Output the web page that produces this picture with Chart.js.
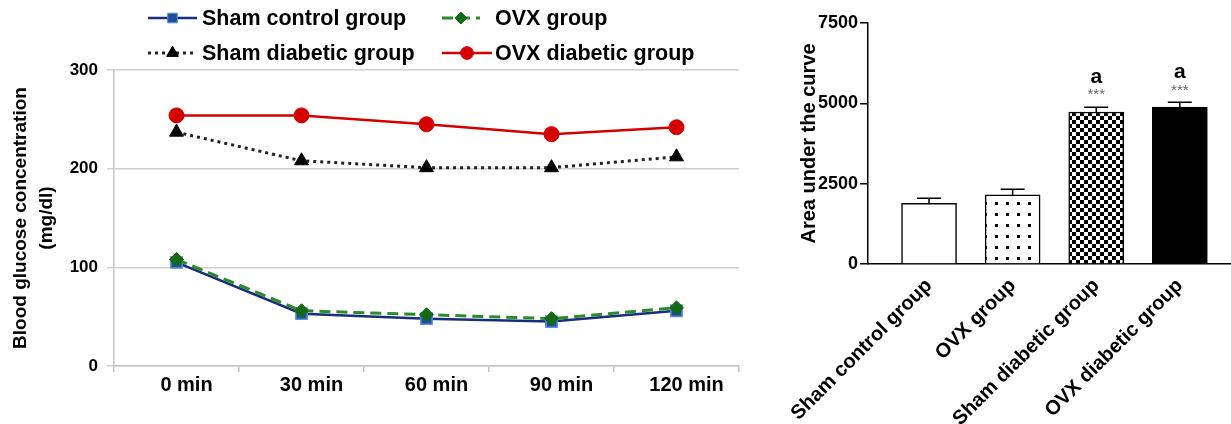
<!DOCTYPE html>
<html>
<head>
<meta charset="utf-8">
<script src="https://cdn.jsdelivr.net/npm/chart.js@4.4.1/dist/chart.umd.min.js"></script>
<style>
html, body { margin: 0; padding: 0; background: #fff; }
#wrap { position: relative; width: 1231px; height: 424px; }
#left { position: absolute; left: 0; top: 0; width: 760px; height: 424px; }
#right { position: absolute; left: 760px; top: 0; width: 471px; height: 424px; }
</style>
</head>
<body>
<div id="wrap">
  <div id="left"><canvas id="glucoseChart"></canvas></div>
  <div id="right"><canvas id="aucChart"></canvas></div>
</div>
<script>
// glucose tolerance curve
const timeLabels = ["0 min", "30 min", "60 min", "90 min", "120 min"];
const shamControl = [105, 53, 48, 45, 56];
const ovxGroup = [108, 56, 52, 48, 59];
const shamDiabetic = [237, 208, 201, 201, 212];
const ovxDiabetic = [254, 254, 245, 235, 242];
const glucoseTicks = [0, 100, 200, 300];

// area under the curve
const aucGroups = ["Sham control group", "OVX group", "Sham diabetic group", "OVX diabetic group"];
const aucValues = [1890, 2150, 4730, 4880];
const aucErrors = [160, 180, 150, 150];
const aucStars = ["", "", "***", "***"];
const aucLetters = ["", "", "a", "a"];
const aucTicks = [0, 2500, 5000, 7500];

const font = "'Liberation Sans', Arial, sans-serif";
const bold = (size, extra) => Object.assign({ family: font, size: size, weight: "bold" }, extra || {});

// legend laid out in two rows like the original
const legendSlots = [[148, 18, 49], [442, 18, 38], [148, 53, 49], [442, 53, 50]];
const excelLegend = {
    id: "excelLegend",
    afterDraw(chart) {
        const ctx = chart.ctx;
        chart.data.datasets.forEach((ds, i) => {
            const [x, y, len] = legendSlots[i];
            ctx.save();
            ctx.strokeStyle = ds.borderColor;
            ctx.lineWidth = ds.borderWidth;
            ctx.setLineDash(ds.borderDash || []);
            ctx.beginPath();
            ctx.moveTo(x, y);
            ctx.lineTo(x + len, y);
            ctx.stroke();
            ctx.setLineDash([]);
            ctx.fillStyle = ds.pointBackgroundColor;
            ctx.strokeStyle = ds.pointBorderColor;
            ctx.lineWidth = 1;
            Chart.helpers.drawPoint(ctx, {pointStyle: ds.pointStyle, radius: ds.pointRadius * 0.85, borderWidth: 1, rotation: 0}, x + len / 2, y);
            ctx.fillStyle = "#000";
            ctx.font = "bold 21.5px " + font;
            ctx.textBaseline = "middle";
            ctx.fillText(ds.label, i % 2 ? 495 : 202, y + 1);
            ctx.restore();
        });
    }
};

new Chart(document.getElementById("glucoseChart"), {
    type: "line",
    data: {
        labels: timeLabels,
        datasets: [
            {
                label: "Sham control group",
                data: shamControl,
                borderColor: "#1a2d7c",
                borderWidth: 2.5,
                pointStyle: "rect",
                pointRadius: 8,
                pointBackgroundColor: "#1f4e9e",
                pointBorderColor: "#5b8fd6",
                pointBorderWidth: 1.5,
                order: 2
            },
            {
                label: "OVX group",
                data: ovxGroup,
                borderColor: "#2b8a2b",
                borderWidth: 3,
                borderDash: [11, 6],
                pointStyle: "rectRot",
                pointRadius: 7,
                pointBackgroundColor: "#146a14",
                pointBorderColor: "#146a14",
                pointBorderWidth: 1,
                order: 1
            },
            {
                label: "Sham diabetic group",
                data: shamDiabetic,
                borderColor: "#222",
                borderWidth: 3,
                borderDash: [3, 4],
                pointStyle: "triangle",
                pointRadius: 8,
                pointBackgroundColor: "#000",
                pointBorderColor: "#000",
                pointBorderWidth: 1,
                order: 3
            },
            {
                label: "OVX diabetic group",
                data: ovxDiabetic,
                borderColor: "#d40000",
                borderWidth: 2.5,
                pointStyle: "circle",
                pointRadius: 7.5,
                pointBackgroundColor: "#d40000",
                pointBorderColor: "#d40000",
                pointBorderWidth: 1,
                order: 4
            }
        ]
    },
    options: {
        responsive: true,
        maintainAspectRatio: false,
        animation: false,
        layout: {padding: {top: 70, right: 21, bottom: 0, left: 0}},
        plugins: {legend: {display: false}, tooltip: {enabled: false}},
        scales: {
            x: {
                offset: true,
                grid: {offset: true, drawOnChartArea: false, tickLength: 6, color: "#c4c4c4", lineWidth: 1.5},
                border: {color: "#c4c4c4", width: 1.5},
                ticks: {color: "#000", font: bold(20), padding: 1, labelOffset: 10, maxRotation: 0},
                afterFit: (s) => { s.height = 58; }
            },
            y: {
                min: 0,
                max: 300,
                afterBuildTicks: (s) => { s.ticks = glucoseTicks.map(v => ({value: v})); },
                grid: {color: "#d0d0d0", lineWidth: 1.5, tickLength: 7},
                border: {color: "#c4c4c4", width: 1.5},
                ticks: {color: "#000", font: bold(17), padding: 9},
                title: {
                    display: true,
                    text: ["Blood glucose concentration", "(mg/dl)"],
                    color: "#000",
                    font: bold(19, {lineHeight: 1.4}),
                    padding: {top: 7, bottom: 0}
                },
                afterFit: (s) => { s.width = 114; }
            }
        }
    },
    plugins: [excelLegend]
});

// fill patterns for the bars
const makePattern = (size, draw) => {
    const c = document.createElement("canvas");
    c.width = c.height = size;
    const g = c.getContext("2d");
    g.fillStyle = "#fff";
    g.fillRect(0, 0, size, size);
    g.fillStyle = "#000";
    draw(g);
    return g.createPattern(c, "repeat");
};
const dotFill = makePattern(11, g => g.fillRect(4, 4, 3, 3));
const checkFill = makePattern(8, g => { g.fillRect(0, 0, 4, 4); g.fillRect(4, 4, 4, 4); });

const errorBars = {
    id: "errorBars",
    afterDatasetsDraw(chart) {
        const ctx = chart.ctx;
        const xs = chart.scales.x, ys = chart.scales.y;
        ctx.save();
        ctx.strokeStyle = "#000";
        ctx.lineWidth = 1.5;
        aucValues.forEach((v, i) => {
            const x = xs.getPixelForValue(i);
            const top = ys.getPixelForValue(v + aucErrors[i]);
            ctx.beginPath();
            ctx.moveTo(x, ys.getPixelForValue(v));
            ctx.lineTo(x, top);
            ctx.moveTo(x - 12, top);
            ctx.lineTo(x + 12, top);
            ctx.stroke();
            ctx.textAlign = "center";
            ctx.textBaseline = "middle";
            if (aucStars[i]) {
                ctx.fillStyle = "#666";
                ctx.font = "15px " + font;
                ctx.fillText(aucStars[i], x, top - 12);
            }
            if (aucLetters[i]) {
                ctx.fillStyle = "#000";
                ctx.font = "bold 21px " + font;
                ctx.fillText(aucLetters[i], x, top - 30);
            }
        });
        ctx.restore();
    }
};

new Chart(document.getElementById("aucChart"), {
    type: "bar",
    data: {
        datasets: [{
            data: aucValues.map((v, i) => ({x: i, y: v})),
            backgroundColor: ["#fff", dotFill, checkFill, "#000"],
            borderColor: "#000",
            borderWidth: 1.5,
            barThickness: 55
        }]
    },
    options: {
        responsive: true,
        maintainAspectRatio: false,
        animation: false,
        layout: {padding: {top: 23, right: 1, bottom: 0, left: 0}},
        plugins: {legend: {display: false}, tooltip: {enabled: false}},
        scales: {
            x: {
                type: "linear",
                offset: false,
                min: -0.73,
                max: 3.6,
                afterBuildTicks: (s) => { s.ticks = aucGroups.map((g, i) => ({value: i})); },
                grid: {display: false, offset: false},
                border: {color: "#000", width: 1.5},
                ticks: {
                    color: "#000",
                    font: bold(20),
                    minRotation: 45,
                    maxRotation: 45,
                    padding: 2,
                    callback: (v) => aucGroups[v]
                },
                afterFit: (s) => { s.height = 160; }
            },
            y: {
                min: 0,
                max: 7500,
                afterBuildTicks: (s) => { s.ticks = aucTicks.map(v => ({value: v})); },
                grid: {drawOnChartArea: false, tickLength: 8, color: "#000", lineWidth: 1.5},
                border: {color: "#000", width: 1.5},
                ticks: {color: "#000", font: bold(18), padding: 2, callback: (v) => String(v)},
                title: {
                    display: true,
                    text: "Area under the curve",
                    color: "#000",
                    font: bold(20),
                    padding: {top: 37, bottom: 0}
                },
                afterFit: (s) => { s.width = 108; }
            }
        }
    },
    plugins: [errorBars]
});
</script>
</body>
</html>
